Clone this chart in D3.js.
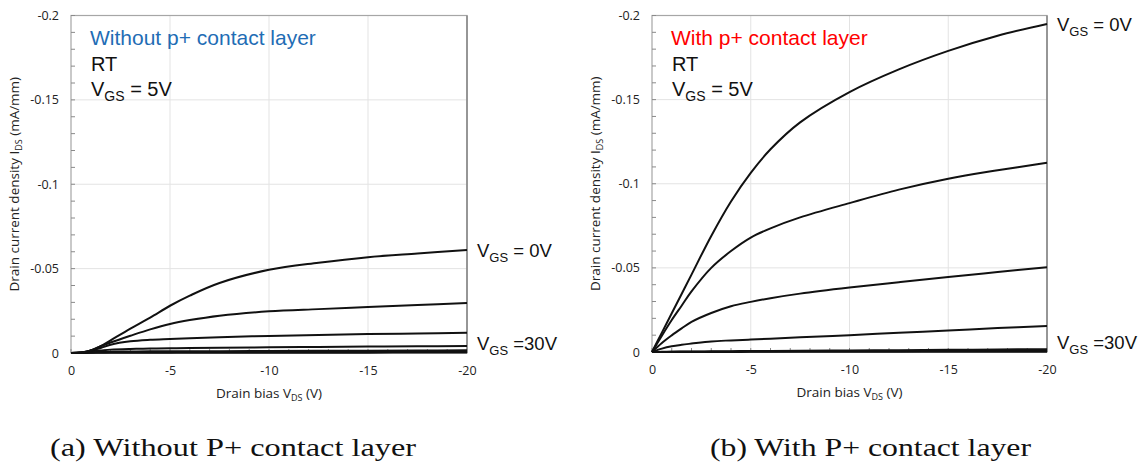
<!DOCTYPE html>
<html><head><meta charset="utf-8">
<script src="https://cdn.jsdelivr.net/npm/d3@7"></script>
<style>
html,body{margin:0;padding:0;background:#fff;}
svg{display:block;}
</style></head>
<body>
<svg id="c" width="1141" height="463"></svg>
<script>
// ---------- data ----------
const vds = [0,-0.5,-1,-1.5,-2,-3,-4,-5,-6,-7.5,-10,-12.5,-15,-17.5,-20];
const xTicks = [0,-5,-10,-15,-20];
const yTicks = [0,-0.05,-0.1,-0.15,-0.2];
const xTickLabels = ["0","-5","-10","-15","-20"];
const yTickLabels = ["0","-0.05","-0.1","-0.15","-0.2"];
const vgsLevels = ["0V","5V","10V","15V","20V","25V","30V"];

// (a) without p+ contact layer, I_DS (mA/mm)
const noP_vgs0  = [0,-0.0003,-0.0015,-0.004,-0.0075,-0.0145,-0.021,-0.028,-0.034,-0.0415,-0.0493,-0.0535,-0.0568,-0.059,-0.0611];
const noP_vgs5  = [0,-0.0003,-0.0015,-0.004,-0.0062,-0.0102,-0.014,-0.0172,-0.0195,-0.0221,-0.0247,-0.026,-0.0272,-0.0284,-0.0296];
const noP_vgs10 = [0,-0.0003,-0.0015,-0.003,-0.0049,-0.0069,-0.0078,-0.0083,-0.0088,-0.0094,-0.0101,-0.0107,-0.0112,-0.0116,-0.012];
const noP_vgs15 = [0,-0.0002,-0.001,-0.0015,-0.002,-0.0024,-0.0026,-0.0028,-0.0029,-0.0031,-0.0034,-0.0036,-0.0038,-0.004,-0.0041];
const noP_vgs20 = [0,-0.0001,-0.0004,-0.0006,-0.0008,-0.0009,-0.001,-0.001,-0.0011,-0.0011,-0.0012,-0.0013,-0.0014,-0.0015,-0.0016];
const noP_vgs25 = [0,-0.0001,-0.0002,-0.0003,-0.0004,-0.0005,-0.0005,-0.0005,-0.0006,-0.0006,-0.0006,-0.0007,-0.0007,-0.0008,-0.0008];
const noP_vgs30 = [0,0,-0.0001,-0.0001,-0.0001,-0.0001,-0.0001,-0.0002,-0.0002,-0.0002,-0.0002,-0.0002,-0.0002,-0.0003,-0.0003];

// (b) with p+ contact layer
const withP_vgs0  = [0,-0.0115,-0.023,-0.0345,-0.046,-0.069,-0.0895,-0.1065,-0.1205,-0.1365,-0.1545,-0.168,-0.179,-0.188,-0.195];
const withP_vgs5  = [0,-0.0097,-0.019,-0.0275,-0.036,-0.050,-0.060,-0.068,-0.0735,-0.080,-0.0885,-0.0965,-0.103,-0.108,-0.1125];
const withP_vgs10 = [0,-0.0054,-0.0099,-0.014,-0.0179,-0.0232,-0.0272,-0.0298,-0.032,-0.0347,-0.0383,-0.0415,-0.0446,-0.0475,-0.0504];
const withP_vgs15 = [0,-0.002,-0.0034,-0.0043,-0.005,-0.0063,-0.0069,-0.0074,-0.0079,-0.0087,-0.0100,-0.0114,-0.0128,-0.0142,-0.0155];
const withP_vgs20 = [0,-0.0001,-0.0002,-0.0003,-0.0003,-0.0004,-0.0005,-0.0006,-0.0006,-0.0007,-0.0009,-0.0011,-0.0013,-0.0015,-0.0017];
const withP_vgs25 = [0,0,-0.0001,-0.0001,-0.0002,-0.0002,-0.0002,-0.0003,-0.0003,-0.0004,-0.0004,-0.0005,-0.0006,-0.0007,-0.0008];
const withP_vgs30 = [0,0,0,0,0,0,0,-0.0001,-0.0001,-0.0001,-0.0001,-0.0001,-0.0002,-0.0002,-0.0002];

const panelA = {series:[noP_vgs0,noP_vgs5,noP_vgs10,noP_vgs15,noP_vgs20,noP_vgs25,noP_vgs30],
  title:"Without p+ contact layer", titleColor:"#1f6db5", caption:"(a) Without P+ contact layer"};
const panelB = {series:[withP_vgs0,withP_vgs5,withP_vgs10,withP_vgs15,withP_vgs20,withP_vgs25,withP_vgs30],
  title:"With p+ contact layer", titleColor:"#ff0000", caption:"(b) With P+ contact layer"};

// ---------- drawing ----------
const svg = d3.select("#c");
svg.append("rect").attr("width",1141).attr("height",463).attr("fill","#fff");

function drawPanel(p, L, R, T, B, capX, capW){
  const g = svg.append("g");
  const x = d3.scaleLinear().domain([0,-20]).range([L,R]);
  const y = d3.scaleLinear().domain([0,-0.2]).range([B,T]);

  // gridlines
  g.append("g").selectAll("line").data(xTicks.slice(1,-1)).join("line")
    .attr("x1",d=>x(d)).attr("x2",d=>x(d)).attr("y1",T).attr("y2",B)
    .attr("stroke","#e3e3e3").attr("stroke-width",1);
  g.append("g").selectAll("line").data(yTicks.slice(1,-1)).join("line")
    .attr("x1",L).attr("x2",R).attr("y1",d=>y(d)).attr("y2",d=>y(d))
    .attr("stroke","#e3e3e3").attr("stroke-width",1);

  // frame
  g.append("rect").attr("x",L).attr("y",T).attr("width",R-L).attr("height",B-T)
    .attr("fill","none").attr("stroke","#a6a6a6").attr("stroke-width",1.2);
  g.append("line").attr("x1",R).attr("x2",R).attr("y1",T).attr("y2",B)
    .attr("stroke","#8a8a8a").attr("stroke-width",1.6);

  // minor ticks (inside)
  const yMinor = d3.range(0,21).map(i=>-i*0.01);
  g.append("g").selectAll("line").data(yMinor).join("line")
    .attr("x1",L).attr("x2",L+4).attr("y1",d=>y(d)).attr("y2",d=>y(d))
    .attr("stroke","#8a8a8a").attr("stroke-width",1);
  const xMinor = d3.range(0,21).map(i=>-i);
  g.append("g").selectAll("line").data(xMinor).join("line")
    .attr("x1",d=>x(d)).attr("x2",d=>x(d)).attr("y1",B).attr("y2",B-4)
    .attr("stroke","#8a8a8a").attr("stroke-width",1);

  // tick labels via d3 axes (tick marks hidden)
  const ax = g.append("g").attr("transform",`translate(0,${B})`)
    .call(d3.axisBottom(x).tickValues(xTicks).tickFormat((d,i)=>xTickLabels[i]).tickSize(0).tickPadding(13));
  const ay = g.append("g").attr("transform",`translate(${L},0)`)
    .call(d3.axisLeft(y).tickValues(yTicks).tickFormat((d,i)=>yTickLabels[i]).tickSize(0).tickPadding(12));
  [ax,ay].forEach(a=>{ a.select(".domain").remove();
    a.selectAll("text").attr("font-family","'Open Sans',sans-serif").attr("font-size","12.5px").attr("fill","#222"); });

  // curves
  const line = d3.line().x((d,i)=>x(vds[i])).y(d=>y(d)).curve(d3.curveCatmullRom.alpha(0.5));
  g.append("g").selectAll("path").data(p.series.slice().reverse()).join("path")
    .attr("d",line).attr("fill","none").attr("stroke","#111").attr("stroke-width",2);

  // axis titles
  const xt = g.append("text").attr("x",(L+R)/2).attr("y",B+45).attr("text-anchor","middle")
    .attr("font-family","'Open Sans',sans-serif").attr("font-size","13.5px").attr("fill","#222");
  xt.append("tspan").text("Drain bias V");
  xt.append("tspan").attr("font-size","9px").attr("dy",3).text("DS");
  xt.append("tspan").attr("dy",-3).text(" (V)");

  const yt = g.append("text").attr("transform",`translate(${L-52},${(T+B)/2}) rotate(-90)`)
    .attr("text-anchor","middle")
    .attr("font-family","'Open Sans',sans-serif").attr("font-size","13.5px").attr("fill","#222");
  yt.append("tspan").text("Drain current density I");
  yt.append("tspan").attr("font-size","9px").attr("dy",3).text("DS");
  yt.append("tspan").attr("dy",-3).text(" (mA/mm)");

  // in-plot annotations
  const af = "'Liberation Sans',Arial,sans-serif";
  g.append("text").attr("x",L+19).attr("y",T+29).attr("font-family",af).attr("font-size","21px")
    .attr("fill",p.titleColor).text(p.title);
  g.append("text").attr("x",L+20).attr("y",T+55).attr("font-family",af).attr("font-size","20px")
    .attr("fill","#111").text("RT");
  const v5 = g.append("text").attr("x",L+20).attr("y",T+80).attr("font-family",af).attr("font-size","20px").attr("fill","#111");
  v5.append("tspan").text("V");
  v5.append("tspan").attr("font-size","14px").attr("dy",5).text("GS");
  v5.append("tspan").attr("dy",-5).text(" = 5V");

  // VGS labels at right
  function vLabel(yy, txt){
    const t = g.append("text").attr("x",R+10).attr("y",yy).attr("font-family",af).attr("font-size","18.5px").attr("fill","#111");
    t.append("tspan").text("V");
    t.append("tspan").attr("font-size","13px").attr("dy",5).text("GS");
    t.append("tspan").attr("dy",-5).text(txt);
  }
  const endTop = p.series[0][p.series[0].length-1];
  vLabel(y(endTop)+7, " = " + vgsLevels[0]);
  vLabel(y(-0.006)+7, " =" + vgsLevels[vgsLevels.length-1]);

  // caption
  svg.append("text").attr("x",capX).attr("y",456).attr("font-family","'Liberation Serif','DejaVu Serif',serif")
    .attr("font-size","26px").attr("fill","#111").attr("textLength",capW).attr("lengthAdjust","spacingAndGlyphs")
    .text(p.caption);
}

drawPanel(panelA, 71, 467, 15.5, 353, 50, 366);
drawPanel(panelB, 652, 1047, 15.5, 352, 710, 321);
</script>
</body></html>
